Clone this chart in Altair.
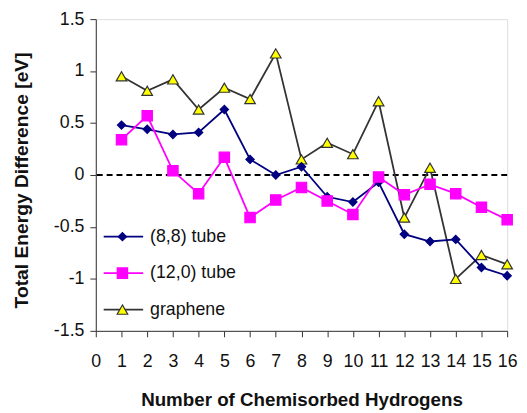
import altair as alt
import pandas as pd

hydrogens = list(range(1, 17))
tube88 = [0.48, 0.44, 0.39, 0.41, 0.63, 0.15, 0.0, 0.08, -0.21, -0.26, -0.07, -0.57, -0.64, -0.62, -0.89, -0.97]
tube120 = [0.34, 0.57, 0.04, -0.18, 0.17, -0.41, -0.24, -0.12, -0.25, -0.38, -0.02, -0.19, -0.09, -0.18, -0.31, -0.43]
graphene = [0.95, 0.81, 0.92, 0.63, 0.84, 0.73, 1.17, 0.15, 0.31, 0.20, 0.71, -0.41, 0.07, -1.0, -0.77, -0.86]
x_ticks = list(range(0, 17))
y_ticks = [1.5, 1, 0.5, 0, -0.5, -1, -1.5]
legend_labels = ["(8,8) tube", "(12,0) tube", "graphene"]

FONT = "Liberation Sans"

df = pd.DataFrame({"n": hydrogens, "t88": tube88, "t120": tube120, "gr": graphene})

xs = alt.Scale(domain=[0, 16], nice=False, zero=False)
ys = alt.Scale(domain=[-1.5, 1.5], nice=False)

xax = alt.Axis(values=x_ticks, title="Number of Chemisorbed Hydrogens", grid=False,
               tickSize=6, labelPadding=16, titlePadding=21, labelFontSize=18,
               titleFontSize=19, labelFont=FONT, titleFont=FONT, titleFontWeight="bold",
               domainColor="#333333", tickColor="#333333", labelColor="#111111",
               titleColor="#111111", labelFlush=False, labelOverlap=False,
               labelExpr="'' + datum.value")
yax = alt.Axis(values=y_ticks, title="Total Energy Difference [eV]", grid=False,
               tickSize=6, labelPadding=6, titleFontSize=19.5, labelFontSize=18,
               titleX=-65, titleY=163, titleBaseline="bottom",
               labelFont=FONT, titleFont=FONT, titleFontWeight="bold",
               domainColor="#333333", tickColor="#333333", labelColor="#111111",
               titleColor="#111111", labelFlush=False, labelOverlap=False,
               labelExpr="'' + datum.value")

base = alt.Chart(df)

zero = alt.Chart(pd.DataFrame({"y": [0]})).mark_rule(
    color="black", strokeDash=[6, 4], strokeWidth=2
).encode(y=alt.Y("y:Q", scale=ys, axis=yax))


def series(col, color, shape, fill, stroke, size, lw):
    enc = dict(x=alt.X("n:Q", scale=xs, axis=xax), y=alt.Y(f"{col}:Q", scale=ys, axis=yax))
    line = base.mark_line(color=color, strokeWidth=lw).encode(**enc)
    pts = base.mark_point(shape=shape, filled=True, fill=fill, stroke=stroke,
                          strokeWidth=1.2, size=size, opacity=1).encode(**enc)
    return [line, pts]


styles = [("#000080", "diamond", "#000080", 70),
          ("#FF00FF", "square", "#FF00FF", 110),
          ("#333333", "triangle-up", "#FFFF00", 115)]

layers = [zero]
layers += series("gr", styles[2][0], styles[2][1], styles[2][2], "#333333", styles[2][3], 1.8)
layers += series("t88", styles[0][0], styles[0][1], styles[0][2], styles[0][0], styles[0][3], 1.8)
layers += series("t120", styles[1][0], styles[1][1], styles[1][2], styles[1][0], styles[1][3], 1.8)

# legend (inside the plot, lower left)
legend_rows = [220.5, 257.5, 294.5]
one = pd.DataFrame({"a": [0]})
for lab, (col, shp, fil, sz), yy in zip(legend_labels, styles, legend_rows):
    c = alt.Chart(one)
    layers.append(c.mark_rule(color=col, strokeWidth=1.8).encode(
        x=alt.value(8), x2=alt.value(48), y=alt.value(yy)))
    layers.append(c.mark_point(shape=shp, filled=True, fill=fil, stroke=col,
                               strokeWidth=1.2, size=sz, opacity=1).encode(
        x=alt.value(27), y=alt.value(yy)))
    layers.append(c.mark_text(text=lab, align="left", baseline="middle", fontSize=18,
                              font=FONT, color="#111111").encode(
        x=alt.value(55), y=alt.value(yy)))

chart = alt.layer(*layers).properties(
    width=417, height=316,
    autosize=alt.AutoSizeParams(type="none"),
    padding={"left": 89, "top": 8.5, "right": 12, "bottom": 80},
).configure_view(stroke=None).configure(background="white")

chart.save("out.html", embed_options={"renderer": "svg", "actions": False})
